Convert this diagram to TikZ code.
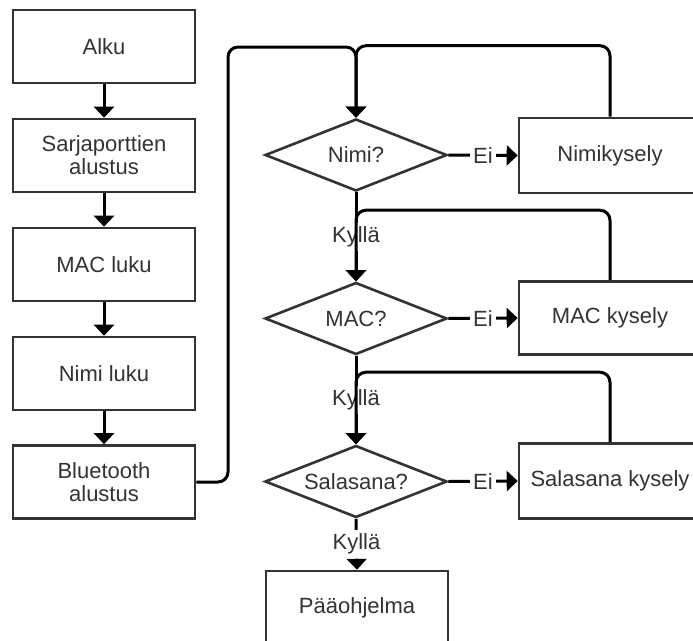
\documentclass[tikz,border=0pt]{standalone}
\usepackage{fontspec}
\setmainfont{Liberation Sans}
\usetikzlibrary{shapes.geometric,arrows.meta}
\definecolor{txt}{HTML}{333333}
\begin{document}
\begin{tikzpicture}[x=1pt,y=-1pt,
  every node/.style={font=\fontsize{22}{23}\selectfont, text=txt},
  box/.style={draw=txt, line width=2.6pt, fill=white, minimum width=182pt, minimum height=73pt, inner sep=0pt, align=center},
  dec/.style={diamond, draw=txt, line width=2.6pt, fill=white, minimum width=182pt, minimum height=72pt, aspect=2.53, inner sep=0pt},
  conn/.style={draw=black, line width=3pt, rounded corners=10pt, -{Triangle[width=20pt,length=11pt]}},
  lab/.style={fill=white, inner xsep=3pt, inner ysep=4pt}
]
\useasboundingbox (0,0) rectangle (693,640);
\fill[white] (0,0) rectangle (693,640);

% left column
\node[box] (alku)  at (104,46.5)  {Alku};
\node[box] (sarja) at (104,155.5) {Sarjaporttien\\alustus};
\node[box] (mac)   at (104,264.5) {MAC luku};
\node[box] (nimi)  at (104,373.5) {Nimi luku};
\node[box] (bt)    at (104,482)   {Bluetooth\\alustus};

% decisions
\node[dec] (qn) at (356,155)   {Nimi?};
\node[dec] (qm) at (356,318.5) {MAC?};
\node[dec] (qs) at (356,481.5) {Salasana?};

% right boxes
\node[box, minimum height=75pt] (kn) at (610,155.5) {Nimikysely};
\node[box, minimum height=73pt] (km) at (610,318)   {MAC kysely};
\node[box, minimum height=75pt] (ks) at (610,481)   {Salasana kysely};

\node[box] (main) at (357,607.5) {Pääohjelma};

% left column arrows
\draw[conn] (alku) -- (sarja);
\draw[conn] (sarja) -- (mac);
\draw[conn] (mac) -- (nimi);
\draw[conn] (nimi) -- (bt);

% Bluetooth to Nimi?
\draw[conn] (bt.east) -- (228,482) -- (228,47) -| (qn.north);

% No branches
\draw[conn] (qn.east) -- node[lab] {Ei} (kn.west);
\draw[conn] (qm.east) -- node[lab] {Ei} (km.west);
\draw[conn] (qs.east) -- node[lab] {Ei} (ks.west);

% Yes branches
\draw[conn] (qn.south) -- node[lab] (y1) {Kyllä} (qm.north);
\draw[conn] (qm.south) -- node[lab] (y2) {Kyllä} (qs.north);
\draw[conn] (qs.south) -- node[lab] (y3) {Kyllä} (main.north);

% loops back
\draw[conn] (kn.north) -- ++(0,-71) -| (qn.north);
\draw[conn] (km.north) -- ++(0,-70) -| (qm.north);
\draw[conn] (ks.north) -- ++(0,-70) -| (qs.north);
\end{tikzpicture}
\end{document}
